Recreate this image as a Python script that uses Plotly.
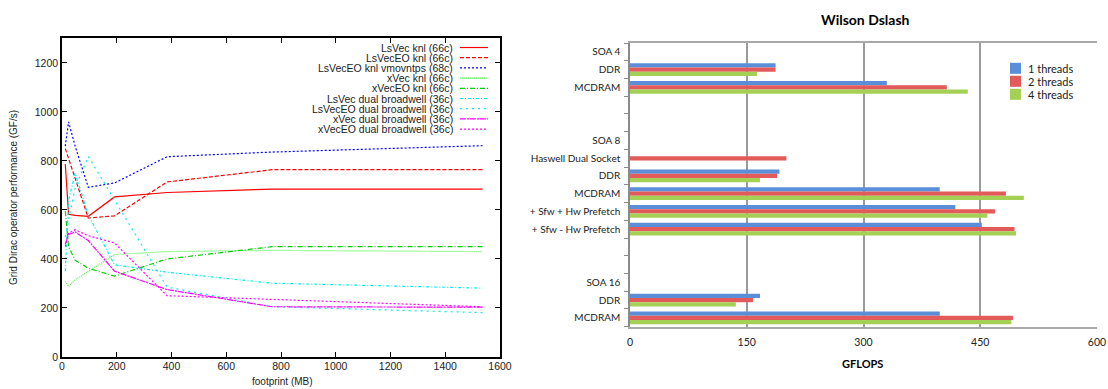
import plotly.graph_objects as go

# ---------------- Left chart data ----------------
footprint = [12, 24, 48, 96, 192, 384, 768, 1536]
series_names = [
    "LsVec knl (66c)",
    "LsVecEO knl (66c)",
    "LsVecEO knl vmovntps (68c)",
    "xVec knl (66c)",
    "xVecEO knl (66c)",
    "LsVec dual broadwell (36c)",
    "LsVecEO dual broadwell (36c)",
    "xVec dual broadwell (36c)",
    "xVecEO dual broadwell (36c)",
]
lsvec_knl = [787, 582, 578, 574, 653, 671, 685, 685]
lsveceo_knl = [850, 810, 730, 567, 576, 714, 764, 764]
lsveceo_vmov = [860, 959, 860, 692, 710, 817, 836, 862]
xvec_knl = [308, 288, 315, 350, 418, 430, 435, 430]
xveceo_knl = [595, 450, 395, 362, 330, 400, 450, 450]
lsvec_bdw = [350, 640, 750, 580, 376, 346, 301, 281]
lsveceo_bdw = [490, 560, 690, 818, 640, 285, 205, 181]
xvec_bdw = [460, 500, 510, 475, 350, 275, 205, 203]
xveceo_bdw = [450, 505, 519, 495, 465, 250, 235, 205]
series_values = [lsvec_knl, lsveceo_knl, lsveceo_vmov, xvec_knl, xveceo_knl,
                 lsvec_bdw, lsveceo_bdw, xvec_bdw, xveceo_bdw]
line_colors = ["#ff0000", "#ff0000", "#0000ff", "#55ee55", "#00d000",
               "#00eeee", "#00eeee", "#ff00ff", "#ff00ff"]
line_dashes = ["solid", "4px,2px", "2px,2px", "1px,1px", "5px,2px,1px,2px",
               "3px,2px,1px,2px", "2px,4px", "6px,1px,2px,1px", "2px,2px"]

# ---------------- Right chart data ----------------
bar_labels = ["SOA 4", "DDR", "MCDRAM", "", "", "SOA 8", "Haswell Dual Socket",
              "DDR", "MCDRAM", "+ Sfw + Hw Prefetch", "+ Sfw - Hw Prefetch",
              "", "", "SOA 16", "DDR", "MCDRAM"]
bar_pos = list(range(len(bar_labels)))
threads1 = [None, 187, 330, None, None, None, None, 192, 398, 418, 452, None, None, None, 167, 398]
threads2 = [None, 187, 407, None, None, None, 201, 189, 483, 469, 494, None, None, None, 158, 492]
threads4 = [None, 163, 434, None, None, None, None, 167, 506, 459, 496, None, None, None, 136, 490]
thread_names = ["1 threads", "2 threads", "4 threads"]
bar_colors = ["#5b8ed8", "#e25a5a", "#a4d055"]

OFF = 0
W, H = 1108, 389

fig = go.Figure()

for name, vals, col, dash in zip(series_names, series_values, line_colors, line_dashes):
    fig.add_trace(go.Scatter(x=footprint, y=vals, mode="lines", name=name,
                             line=dict(color=col, width=1.2, dash=dash),
                             xaxis="x", yaxis="y", showlegend=False))

for name, vals, col in zip(thread_names, [threads1, threads2, threads4], bar_colors):
    fig.add_trace(go.Bar(x=vals, y=bar_pos, orientation="h", name=name,
                         marker=dict(color=col, line=dict(width=0)),
                         xaxis="x2", yaxis="y2", showlegend=False))

def px_x(p):
    return (p - OFF) / W

def px_y(p):
    return 1 - (p - OFF) / H

annotations = []
shapes = []
# gnuplot-style legend (text left, sample right)
for i, (name, col, dash) in enumerate(zip(series_names, line_colors, line_dashes)):
    yy = 47.5 + i * 10.2
    annotations.append(dict(text=name, x=px_x(455), y=px_y(yy), xref="paper", yref="paper",
                            xanchor="right", yanchor="middle", showarrow=False,
                            font=dict(family="Liberation Sans", size=10.5, color="#222")))
    shapes.append(dict(type="line", xref="paper", yref="paper",
                       x0=px_x(460), x1=px_x(488), y0=px_y(yy), y1=px_y(yy),
                       line=dict(color=col, width=1.2, dash=dash)))

# Excel-style legend for bars
for i, (name, col) in enumerate(zip(thread_names, bar_colors)):
    yy = 68.3 + i * 13
    shapes.append(dict(type="rect", xref="paper", yref="paper",
                       x0=px_x(1010), x1=px_x(1021), y0=px_y(yy - 5.5), y1=px_y(yy + 5.5),
                       fillcolor=col, line=dict(width=0)))
    annotations.append(dict(text=name, x=px_x(1026), y=px_y(yy), xref="paper", yref="paper",
                            xanchor="left", yanchor="middle", showarrow=False,
                            font=dict(family="Lato", size=11, color="#222")))

annotations += [
    dict(text="footprint (MB)", x=px_x(282), y=px_y(381), xref="paper", yref="paper",
         xanchor="center", yanchor="middle",
         showarrow=False, font=dict(family="Liberation Sans", size=10, color="#222")),
    dict(text="Grid Dirac operator performance (GF/s)", x=px_x(13), y=px_y(198),
         xref="paper", yref="paper", textangle=-90, showarrow=False,
         xanchor="center", yanchor="middle",
         font=dict(family="Liberation Sans", size=10, color="#222")),
    dict(text="<b>Wilson Dslash</b>", x=px_x(865), y=px_y(19), xref="paper", yref="paper",
         xanchor="center", yanchor="middle",
         showarrow=False, font=dict(family="Lato", size=14, color="#000")),
    dict(text="<b>GFLOPS</b>", x=px_x(862), y=px_y(363), xref="paper", yref="paper",
         xanchor="center", yanchor="middle",
         showarrow=False, font=dict(family="Lato", size=11, color="#000")),
]

fig.update_layout(
    width=W, height=H,
    margin=dict(l=0, r=0, t=0, b=0),
    paper_bgcolor="white", plot_bgcolor="white",
    barmode="group", bargap=0.28, bargroupgap=0,
    showlegend=False,
    xaxis=dict(domain=[px_x(62), px_x(500)], range=[0, 1600], dtick=200,
               showgrid=False, zeroline=False, showline=True, linecolor="#000",
               linewidth=1.5, mirror="allticks", ticks="inside", ticklen=5,
               ticklabelstandoff=-1,
               tickcolor="#000", tickfont=dict(family="Liberation Sans", size=10.5, color="#222"),
               anchor="y", automargin=False),
    yaxis=dict(domain=[px_y(357), px_y(38.3)], range=[0, 1300],
               tickvals=[0, 200, 400, 600, 800, 1000, 1200],
               showgrid=False, zeroline=False, showline=True, linecolor="#000",
               linewidth=1.5, mirror="allticks", ticks="inside", ticklen=5,
               tickcolor="#000", tickfont=dict(family="Liberation Sans", size=10.5, color="#222"),
               anchor="x", automargin=False),
    xaxis2=dict(domain=[px_x(630), px_x(1097)], range=[0, 600], dtick=150,
                showgrid=True, gridcolor="#9a9a9a", gridwidth=1.5, zeroline=False,
                showline=True, linecolor="#a8a8a8", linewidth=1.5, mirror=True,
                ticks="", ticklabelstandoff=5, ticklabeloverflow="allow",
                tickfont=dict(family="Lato", size=10.5, color="#222"),
                anchor="y2", automargin=False),
    yaxis2=dict(domain=[px_y(326.7), px_y(43)], range=[15.5, -0.5],
                tickvals=bar_pos, ticktext=bar_labels, ticks="", ticklabelstandoff=6,
                showgrid=False, zeroline=False, showline=True, linecolor="#8a8a8a",
                linewidth=1.5, mirror=False,
                minor=dict(tick0=-0.5, dtick=1, ticks="outside", ticklen=4, tickcolor="#8a8a8a"),
                tickfont=dict(family="Lato", size=10, color="#222"),
                anchor="x2", automargin=False),
    annotations=annotations,
    shapes=shapes,
)

fig.write_html("out.html",
               config={"displayModeBar": False},
               post_script="document.body.style.margin='0';"
                           "document.documentElement.style.overflow='hidden';")
